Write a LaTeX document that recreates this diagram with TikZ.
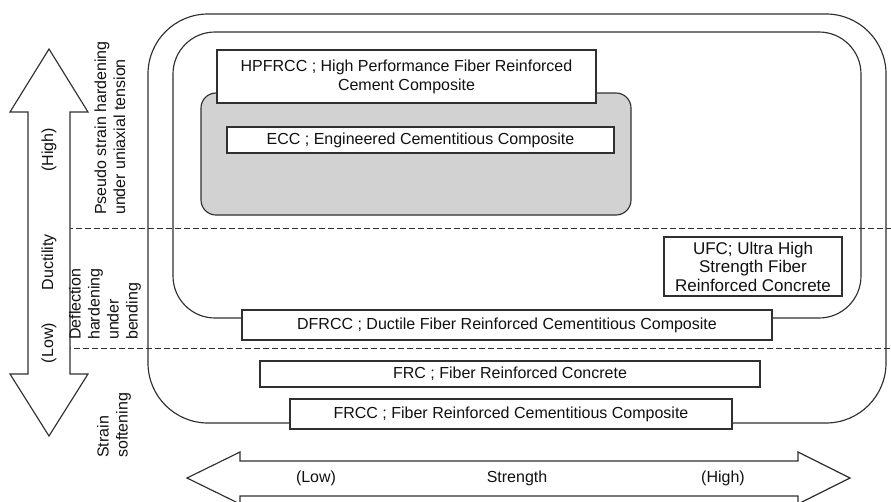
\documentclass[tikz,border=0pt]{standalone}
\usepackage{fontspec}
\setmainfont{Liberation Sans}
\definecolor{linec}{HTML}{303030}
\definecolor{textc}{HTML}{111111}
\definecolor{grayfill}{HTML}{D2D2D2}
\begin{document}
\begin{tikzpicture}[x=1pt,y=-1pt,
  lbl/.style={text=textc,inner sep=0pt,font=\fontsize{16}{19}\selectfont},
  box/.style={draw=linec,fill=white,line width=1.15pt,inner sep=0pt,text=textc,
    font=\fontsize{16}{19}\selectfont,align=center},
  frame/.style={draw=linec,line width=1.15pt,inner sep=0pt},
  sep/.style={draw=linec,line width=0.9pt,dash pattern=on 5.5pt off 3.5pt},
  rlbl/.style={lbl,rotate=90,align=left,anchor=west}
]
\useasboundingbox (0,0) rectangle (891,501);
\begin{scope}
\clip (0,0) rectangle (891,501);
% containers
\node[frame,rounded corners=60pt,minimum width=738pt,minimum height=409pt] (outer) at (517,218.5) {};
\node[frame,rounded corners=42pt,minimum width=688pt,minimum height=286pt] (inner) at (517,175) {};
\node[frame,fill=grayfill,rounded corners=15pt,minimum width=430pt,minimum height=122pt] (ecczone) at (416,154) {};
% boxes
\node[box,minimum width=379pt,minimum height=53pt] (hpfrcc) at (406.5,76.5) {HPFRCC ; High Performance Fiber Reinforced\\Cement Composite};
\node[box,minimum width=387pt,minimum height=26pt] (ecc) at (420.5,140) {ECC ; Engineered Cementitious Composite};
\node[box,minimum width=178pt,minimum height=59pt,font=\fontsize{17}{18.5}\selectfont] (ufc) at (753,266.5) {UFC; Ultra High\\Strength Fiber\\Reinforced Concrete};
\node[box,minimum width=530pt,minimum height=30pt] (dfrcc) at (507,325) {DFRCC ; Ductile Fiber Reinforced Cementitious Composite};
\node[box,minimum width=500pt,minimum height=26pt] (frc) at (510,374) {FRC ; Fiber Reinforced Concrete};
\node[box,minimum width=442pt,minimum height=30pt] (frcc) at (511,414) {FRCC ; Fiber Reinforced Cementitious Composite};
% dashed separators
\coordinate (d1a) at (58,228); \coordinate (d1b) at (891,228);
\coordinate (d2a) at (56,348); \coordinate (d2b) at (891,348);
\draw[sep] (d1a) -- (d1b);
\draw[sep] (d2a) -- (d2b);
% ductility arrow
\draw[linec,line width=1.15pt,line join=miter,fill=white] (49,49) -- (88,112) -- (70,112) -- (70,374) -- (88,374) -- (49,436) -- (10,374) -- (28,374) -- (28,112) -- (10,112) -- cycle;
\node[lbl,rotate=90] (high) at (49,150) {(High)};
\node[lbl,rotate=90] (duct) at (49,262) {Ductility};
\node[lbl,rotate=90] (low) at (49,343) {(Low)};
% strength arrow
\draw[linec,line width=1.15pt,line join=miter,fill=white] (187,478) -- (240,452) -- (240,461) -- (798,461) -- (798,452) -- (850,478) -- (798,504) -- (798,496) -- (240,496) -- (240,504) -- cycle;
\node[lbl] (slow) at (316,478) {(Low)};
\node[lbl] (str) at (517,478) {Strength};
\node[lbl] (shigh) at (723,478) {(High)};
% side labels
\node[rlbl] (pseudo) at (110,215) {Pseudo strain hardening\\under uniaxial tension};
\node[rlbl] (defl) at (105,340) {Deflection\\hardening\\under\\bending};
\node[rlbl] (soft) at (114,458) {Strain\\softening};
\end{scope}
\end{tikzpicture}
\end{document}
